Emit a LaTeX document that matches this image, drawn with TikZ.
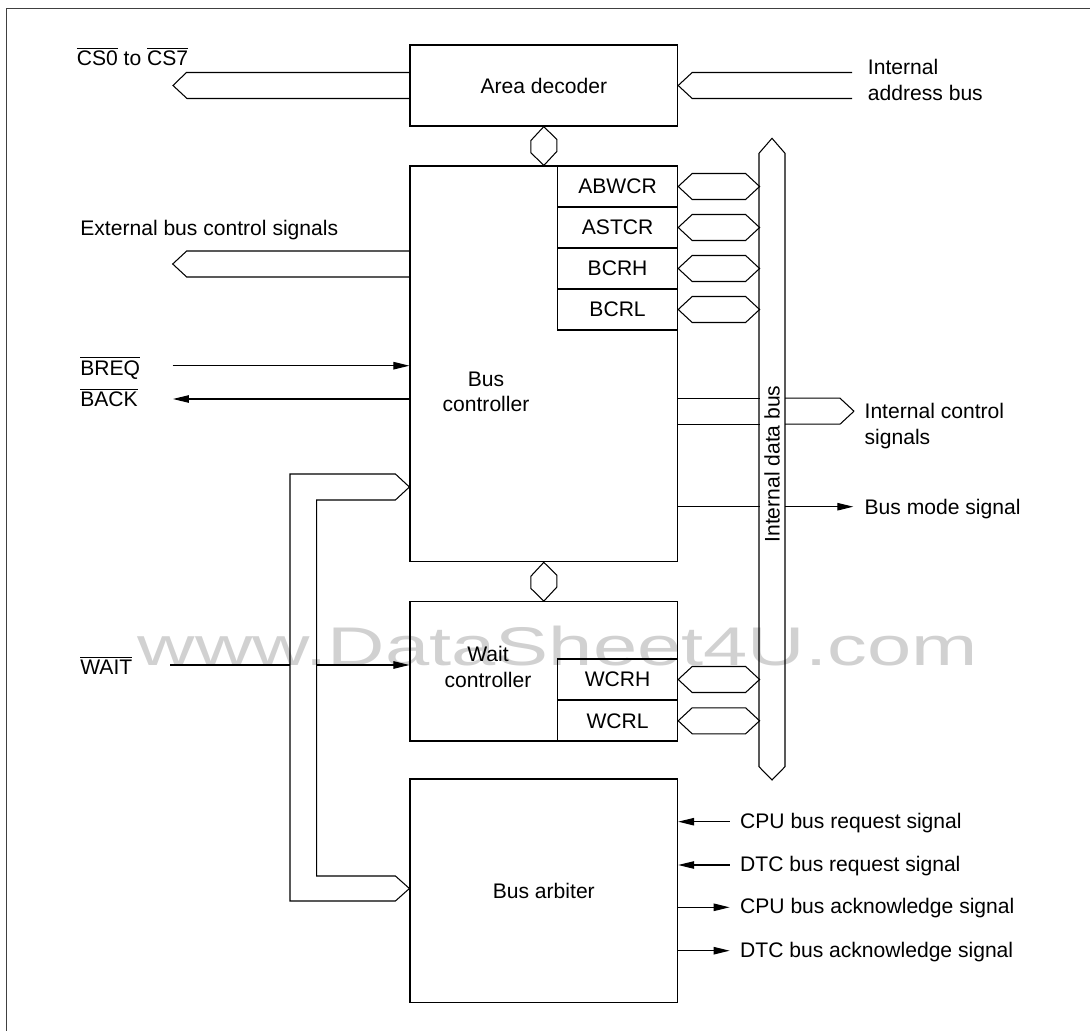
\documentclass[tikz,border=0pt]{standalone}
\usepackage{fontspec}
\setmainfont{Liberation Sans}
\usetikzlibrary{arrows.meta,calc}
\tikzset{
  blk/.style={draw,line width=0.7pt,minimum width=5.352cm,inner sep=0pt},
  regbox/.style={draw,line width=0.7pt,minimum width=2.4cm,minimum height=0.82cm,inner sep=0pt},
  bus/.style={line width=0.6pt,line join=miter},
  sig/.style={line width=0.6pt},
  arr/.style={sig,-{Triangle[length=0.32cm,width=0.15cm]}},
  lbl/.style={anchor=base west,inner sep=0pt,align=left},
}
\begin{document}
\begin{tikzpicture}[x=0.02cm,y=-0.02cm,every node/.style={font=\fontsize{12}{14.5}\selectfont}]
  \useasboundingbox (0,0) rectangle (1090,1031);
  % watermark and frame
  \node[anchor=base,inner sep=0pt,text=black!18,font=\fontsize{31}{31}\selectfont] (wm) at (557.8,665) {\scalebox{1.46}[1]{www.DataSheet4U.com}};
  \draw[line width=0.9pt,black!75] (6.5,1031) -- (6.5,8.5) -- (1090,8.5);

  % blocks
  \node[blk,minimum height=1.62cm] (dec) at (543.8,85.5) {Area decoder};
  \node[blk,minimum height=7.914cm] (bc) at (543.8,363.9) {};
  \node[align=center] (bctxt) at (486,392) {Bus\\controller};
  \node[blk,minimum height=2.786cm] (wc) at (543.8,671.4) {};
  \node[align=center] (wctxt) at (488,667) {Wait\\controller};
  \node[blk,minimum height=4.474cm] (arb) at (543.8,890.9) {Bus arbiter};

  % registers
  \node[regbox] (abwcr) at (617.6,186.5) {ABWCR};
  \node[regbox] (astcr) at (617.6,227.5) {ASTCR};
  \node[regbox] (bcrh) at (617.6,268.5) {BCRH};
  \node[regbox] (bcrl) at (617.6,309.5) {BCRL};
  \node[regbox] (wcrh) at (617.6,679.5) {WCRH};
  \node[regbox] (wcrl) at (617.6,720.8) {WCRL};

  % internal data bus
  \draw[bus] (759,153.3) -- (772,138.3) -- (785,153.3) -- (785,766.7) -- (772,780) -- (759,766.7) -- cycle;
  \node[rotate=90] (dbus) at (772,464) {Internal data bus};

  % register to data bus
  \draw[bus] (abwcr.east) -- ++(14,-13) -- ++(53.4,0) -- ++(14,13) -- ++(-14,13) -- ++(-53.4,0) -- cycle;
  \draw[bus] (astcr.east) -- ++(14,-13) -- ++(53.4,0) -- ++(14,13) -- ++(-14,13) -- ++(-53.4,0) -- cycle;
  \draw[bus] (bcrh.east) -- ++(14,-13) -- ++(53.4,0) -- ++(14,13) -- ++(-14,13) -- ++(-53.4,0) -- cycle;
  \draw[bus] (bcrl.east) -- ++(14,-13) -- ++(53.4,0) -- ++(14,13) -- ++(-14,13) -- ++(-53.4,0) -- cycle;
  \draw[bus] (wcrh.east) -- ++(14,-13) -- ++(53.4,0) -- ++(14,13) -- ++(-14,13) -- ++(-53.4,0) -- cycle;
  \draw[bus] (wcrl.east) -- ++(14,-13) -- ++(53.4,0) -- ++(14,13) -- ++(-14,13) -- ++(-53.4,0) -- cycle;

  % block to block
  \draw[bus] (dec.south) -- ++(-13,14) -- ++(0,12) -- (bc.north) -- ++(13,-14) -- ++(0,-12) -- cycle;
  \draw[bus] (bc.south) -- ++(-13,14) -- ++(0,12) -- (wc.north) -- ++(13,-14) -- ++(0,-12) -- cycle;

  % area decoder buses
  \node[lbl] (cs) at (76.5,65.7) {$\overline{\mbox{CS0}}$ to $\overline{\mbox{CS7}}$};
  \coordinate (csend) at (173,85.5);
  \draw[bus] (dec.west) ++(0,-13) -- ++(-223,0) -- (csend) -- ++(14,13) -- ++(223,0);
  \node[lbl] (abus) at (867.6,100) {Internal\\address bus};
  \draw[bus] (dec.east) -- ++(14,-13) -- ++(160,0);
  \draw[bus] (dec.east) -- ++(14,13) -- ++(160,0);

  % left side of bus controller
  \node[lbl] (ext) at (80,235) {External bus control signals};
  \coordinate (extend) at (172.7,264);
  \draw[bus] (extend) ++(237.3,-13) -- ++(-223.3,0) -- (extend) -- ++(14,13) -- ++(223.3,0);
  \node[lbl] (breq) at (80,375) {$\overline{\mbox{BREQ}}$};
  \coordinate (breqin) at (172.7,365.7);
  \draw[arr] (breqin) -- (breqin -| bc.west);
  \node[lbl] (back) at (80,406.7) {$\overline{\mbox{BACK}}$};
  \coordinate (backout) at (173,399);
  \draw[arr] (backout -| bc.west) -- (backout);

  % right side of bus controller
  \node[lbl] (icstxt) at (864.3,444) {Internal control\\signals};
  \coordinate (icsend) at (854,411.2);
  \draw[bus] (bc.east |- icsend) ++(0,-13) -- ++(81.4,0);
  \draw[bus] (bc.east |- icsend) ++(0,13) -- ++(81.4,0);
  \draw[bus] (icsend) -- ++(-14,-13) -- ++(-55,0);
  \draw[bus] (icsend) -- ++(-14,13) -- ++(-55,0);
  \node[lbl] (bmtxt) at (864.3,514) {Bus mode signal};
  \coordinate (bmend) at (853.3,506.7);
  \draw[sig] (bc.east |- bmend) -- ++(81.4,0);
  \draw[arr] (bmend) ++(-68.3,0) -- (bmend);

  % wait bus
  \coordinate (wtop) at (bc.west |- 0,487);
  \coordinate (wbot) at (arb.west |- 0,888.5);
  \draw[bus] (wtop) -- ++(-14,-13) -- (290,474) -- (290,901) -- ($(wbot)+(-14,12.5)$) -- (wbot);
  \draw[bus] (wtop) -- ++(-14,13) -- (316.7,500) -- (316.7,876) -- ($(wbot)+(-14,-12.5)$) -- (wbot);
  \node[lbl] (wait) at (80,674.3) {$\overline{\mbox{WAIT}}$};
  \coordinate (waitin) at (170,665);
  \draw[sig] (waitin) -- (290,665);
  \draw[arr] (316.7,665) -- (waitin -| wc.west);

  % bus arbiter signals
  \coordinate (cpureq) at (729.6,821.7);
  \coordinate (dtcreq) at (729.6,865);
  \coordinate (cpuack) at (729.6,907.3);
  \coordinate (dtcack) at (729.6,950.7);
  \draw[arr] (cpureq) -- (cpureq -| arb.east);
  \draw[arr] (dtcreq) -- (dtcreq -| arb.east);
  \draw[arr] (cpuack -| arb.east) -- (cpuack);
  \draw[arr] (dtcack -| arb.east) -- (dtcack);
  \node[lbl] (cpureqtxt) at (739.8,828.3) {CPU bus request signal};
  \node[lbl] (dtcreqtxt) at (739.8,871.6) {DTC bus request signal};
  \node[lbl] (cpuacktxt) at (739.8,913.9) {CPU bus acknowledge signal};
  \node[lbl] (dtcacktxt) at (739.8,957.3) {DTC bus acknowledge signal};
\end{tikzpicture}
\end{document}
